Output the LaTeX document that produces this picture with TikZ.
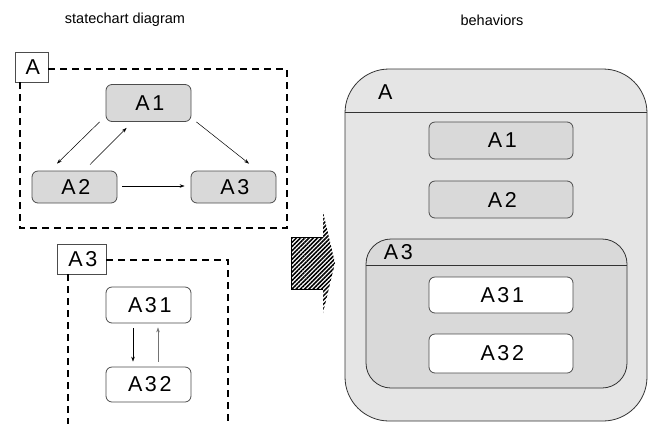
\documentclass[tikz,border=0pt]{standalone}
\usepackage{fontspec}
\setmainfont{Liberation Sans}
\newfontfamily\lblfont[LetterSpace=12]{Liberation Sans}
\usetikzlibrary{arrows.meta,patterns.meta,calc}
\newcommand{\lsz}{\lblfont\fontsize{21.5}{23}\selectfont}
\begin{document}
\begin{tikzpicture}[x=1pt,y=-1pt,
  state/.style={draw=black!70, rounded corners=6pt, line width=0.8pt, inner sep=0pt,
    font=\lsz},
  gstate/.style={state, fill=black!15},
  wstate/.style={state, fill=white},
  lblbox/.style={draw=black!70, fill=white, line width=0.8pt, inner sep=0pt,
    font=\lsz},
  frame/.style={line width=1.6pt, dash pattern=on 7pt off 5pt},
  trans/.style={-{Stealth[length=5pt,width=3.5pt]}, line width=0.5pt},
  title/.style={font=\fontsize{14.5}{16}\selectfont, inner sep=0pt},
  big/.style={font=\lsz, inner sep=0pt}
]
\useasboundingbox (0,0) rectangle (658,424);

% titles
\node[title] (t1) at (125,20) {statechart diagram};
\node[title] (t2) at (492,20) {behaviors};

% left: A statechart
\node[lblbox, minimum width=33pt, minimum height=30pt] (lA) at (31.5,67) {A\kern-2.6pt};
\draw[frame] (48,69) -- (287,69) -- (287,228) -- (20,228) -- (20,82);

\node[gstate, minimum width=85pt, minimum height=37pt] (a1) at (148.5,103) {A1\kern-2.6pt};
\node[gstate, minimum width=85pt, minimum height=32pt] (a2) at (74.5,187) {A2\kern-2.6pt};
\node[gstate, minimum width=85pt, minimum height=32pt] (a3) at (233.5,187) {A3\kern-2.6pt};

\draw[trans] ($(a1.south west)+(-6,0)$) -- ($(a2.north)+(-17.5,-7)$);
\draw[trans] ($(a2.north)+(15.5,-6)$) -- ($(a1.south west)+(21,6)$);
\draw[trans] ($(a1.south east)+(5,0)$) -- ($(a3.north)+(15.5,-7)$);
\draw[trans] ($(a2.east)+(5,-1)$) -- ($(a3.west)+(-6,-1)$);

% left: A3 statechart
\node[lblbox, minimum width=49pt, minimum height=30pt] (lA3) at (81.5,259) {A3\kern-2.6pt};
\draw[frame] (106,260) -- (228,260) -- (228,424);
\draw[frame] (68,274) -- (68,424);

\node[wstate, minimum width=85pt, minimum height=36pt] (a31) at (148.5,305) {A31\kern-2.6pt};
\node[wstate, minimum width=85pt, minimum height=35pt] (a32) at (148.5,384.5) {A32\kern-2.6pt};

\draw[trans] ($(a31.south)+(-15.5,5)$) -- ($(a32.north)+(-15.5,-5)$);
\draw[trans, draw=black!55, -{Stealth[length=5pt,width=3.5pt,fill=black!55]}] ($(a32.north)+(9.5,-5)$) -- ($(a31.south)+(9.5,4)$);

% big hatched arrow
\fill[white] (291,237) -- (323,237) -- (323,212) -- (335,263) -- (323,313) -- (323,289) -- (291,289) -- cycle;
\fill[pattern={Lines[angle=45,distance=3pt,line width=1.5pt]}] (291,237) -- (323,237) -- (323,212) -- (335,263) -- (323,313) -- (323,289) -- (291,289) -- cycle;
\draw[line width=1pt] (323,237) -- (291,237) -- (291,289) -- (323,289);

% right: behaviors
\node[draw=black!80, fill=black!10, line width=0.8pt, rounded corners=44pt,
  minimum width=302pt, minimum height=352pt, inner sep=0pt] (bA) at (496,245) {};
\draw[draw=black!80, line width=0.8pt] (bA.west |- 0,112) -- (bA.east |- 0,112);
\node[big] (bAl) at (384,92) {A\kern-2.6pt};

\node[gstate, minimum width=144pt, minimum height=37pt] (b1) at (501,140.5) {A1\kern-2.6pt};
\node[gstate, minimum width=144pt, minimum height=37pt] (b2) at (501,199.5) {A2\kern-2.6pt};

\node[draw=black!80, fill=black!15, line width=0.8pt, rounded corners=25pt,
  minimum width=261pt, minimum height=149pt, inner sep=0pt] (b3) at (496.5,313.5) {};
\draw[draw=black!80, line width=0.8pt] (b3.west |- 0,265) -- (b3.east |- 0,265);
\node[big] (b3l) at (397,252) {A3\kern-2.6pt};

\node[wstate, minimum width=144pt, minimum height=36pt] (b31) at (501,295) {A31\kern-2.6pt};
\node[wstate, minimum width=144pt, minimum height=39pt] (b32) at (501,353.5) {A32\kern-2.6pt};
\end{tikzpicture}
\end{document}
